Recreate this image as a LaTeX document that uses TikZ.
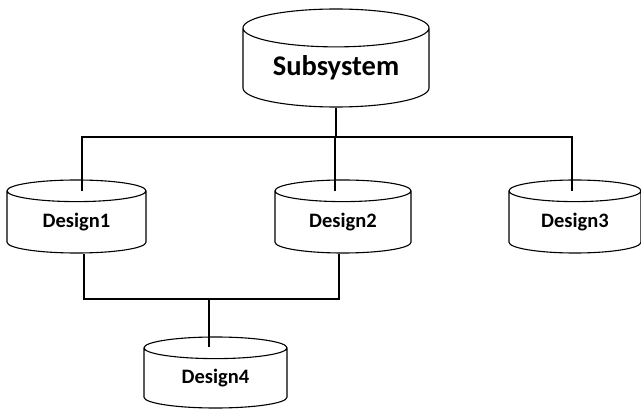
\documentclass[tikz,border=0pt]{standalone}
\usepackage{fontspec}
\setmainfont{Carlito}
\usepackage{tikz}
\usetikzlibrary{shapes.geometric,calc}
\tikzstyle{edge}=[draw=black,line width=1.1pt]
\tikzstyle{store}=[cylinder,shape border rotate=90,anchor=shape center,draw=black,line width=1.1pt,fill=white,font=\bfseries\fontsize{20.5}{22}\selectfont,inner sep=0pt]
\begin{document}
\begin{tikzpicture}[x=1pt,y=-1pt]
\useasboundingbox (0,0) rectangle (641,409);
\node[store,minimum width=186pt,minimum height=98pt,aspect=0.3,font=\bfseries\fontsize{28.5}{30}\selectfont] (sub) at (336,58) {Subsystem};
\node[store,minimum width=139pt,minimum height=73pt,aspect=0.32] (d1) at (76.5,216.5) {Design1};
\node[store,minimum width=136pt,minimum height=73pt,aspect=0.32] (d2) at (343,216.5) {Design2};
\node[store,minimum width=132pt,minimum height=73pt,aspect=0.32] (d3) at (575,216.5) {Design3};
\node[store,minimum width=143pt,minimum height=71pt,aspect=0.32] (d4) at (215.5,372.5) {Design4};
\coordinate (topbus) at (0,137);
\coordinate (lowbus) at (0,299);
\coordinate (d1in) at ([xshift=5.5pt,yshift=-12pt]d1.north);
\coordinate (d2in) at ([xshift=-8pt,yshift=-12pt]d2.north);
\coordinate (d3in) at ([xshift=-3pt,yshift=-12pt]d3.north);
\coordinate (d4in) at ([xshift=-6.5pt,yshift=-11pt]d4.north);
\coordinate (d1out) at ([xshift=7.5pt]d1.south);
\coordinate (d2out) at ([xshift=-4pt]d2.south);
\draw[edge] (sub.south) -- (sub.south |- topbus);
\draw[edge] (d1in) -- (d1in |- topbus) -- (d3in |- topbus) -- (d3in);
\draw[edge] (d2in) -- (d2in |- topbus);
\draw[edge] (d1out) -- (d1out |- lowbus) -- (d2out |- lowbus) -- (d2out);
\draw[edge] (d4in |- lowbus) -- (d4in);
\end{tikzpicture}
\end{document}
